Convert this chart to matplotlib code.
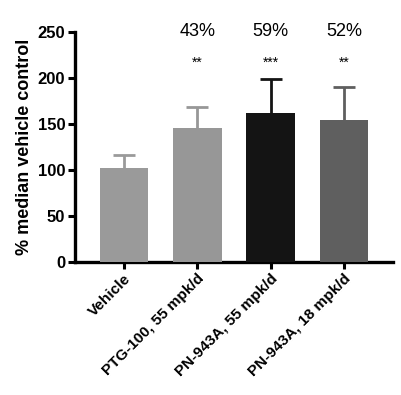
import matplotlib
matplotlib.use("Agg")
from matplotlib import pyplot as plt

groups = ["Vehicle", "PTG-100, 55 mpk/d", "PN-943A, 55 mpk/d", "PN-943A, 18 mpk/d"]
means = [102, 145.5, 162, 154]
errors = [14, 23, 37, 36]
pct_labels = ["", "43%", "59%", "52%"]
stars = ["", "**", "***", "**"]
colors = ["#9a9a9a", "#979797", "#141414", "#5f5f5f"]

plt.rcParams["font.family"] = ["Liberation Sans", "DejaVu Sans"]

fig = plt.figure(figsize=(4.01, 3.95), dpi=100)
ax = fig.add_axes([0.187, 0.337, 0.793, 0.582])

x = range(len(groups))
for i in x:
    ax.bar(i, means[i], width=0.66, color=colors[i], zorder=3)
    # symmetric errors; lower half sits hidden behind the bar
    ax.errorbar(i, means[i], yerr=errors[i], fmt="none",
                ecolor=colors[i], elinewidth=2, capsize=8, capthick=2, zorder=1)
    if pct_labels[i]:
        ax.text(i, 250, pct_labels[i], ha="center", va="center", fontsize=13)
        ax.text(i, 216, stars[i], ha="center", va="center", fontsize=10)

ax.set_xlim(-0.67, 3.67)
ax.set_ylim(0, 250)
ax.set_yticks([0, 50, 100, 150, 200, 250])
ax.set_xticks(list(x))
ax.set_xticklabels(groups, rotation=45, ha="right", rotation_mode="anchor",
                   fontsize=11, fontweight="bold")
for lab in ax.get_yticklabels():
    lab.set_fontweight("bold")
    lab.set_fontsize(12)
ax.set_ylabel("% median vehicle control", fontsize=13, fontweight="bold", labelpad=3)

for s in ["top", "right"]:
    ax.spines[s].set_visible(False)
for s in ["left", "bottom"]:
    ax.spines[s].set_linewidth(2.4)
ax.tick_params(width=2.2, length=5, pad=2)
ax.spines["left"].set_bounds(0, 250)

plt.savefig("out.png", dpi=100)
